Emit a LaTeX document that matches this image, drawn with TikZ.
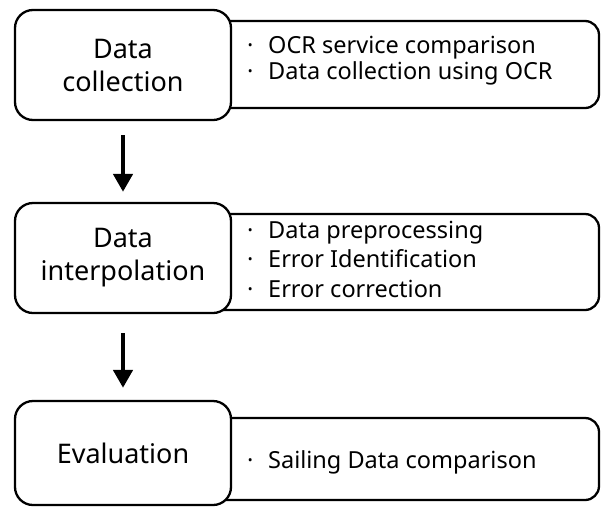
\documentclass[tikz,border=0pt]{standalone}
\usepackage{fontspec}
\setmainfont{Noto Sans}
\usetikzlibrary{arrows.meta}
\newcommand{\itm}{\makebox[26pt][l]{\hspace{5pt}·}}
\begin{document}
\begin{tikzpicture}[x=1pt,y=-1pt,
  lbox/.style={draw, line width=2.3pt, rounded corners=18pt, fill=white,
    minimum width=216pt, inner sep=0pt, align=center,
    font=\fontsize{27}{33}\selectfont},
  rbox/.style={draw, line width=2.3pt, rounded corners=14pt, fill=white,
    minimum width=399pt, inner sep=0pt},
  rtext/.style={anchor=west, align=left, inner sep=0pt},
  flow/.style={line width=4.6pt, -{Triangle[width=19pt,length=18pt]}}]
\useasboundingbox (0,0) rectangle (601,507);
% row 1
\node[rbox, minimum height=87pt] (r1) at (399.5,64.5) {};
\node[lbox, minimum height=110pt] (l1) at (123,65) {Data\\collection};
\node[rtext, font=\fontsize{23.5}{26}\selectfont] (t1) at (242,61)
  {\itm OCR service comparison\\ \itm Data collection using OCR};
% row 2
\node[rbox, minimum height=96pt] (r2) at (399.5,262) {};
\node[lbox, minimum height=110pt] (l2) at (123,258) {Data\\interpolation};
\node[rtext, font=\fontsize{23.5}{29.5}\selectfont] (t2) at (242,259)
  {\itm Data preprocessing\\ \itm Error Identification\\ \itm Error correction};
% row 3
\node[rbox, minimum height=82pt] (r3) at (399.5,459) {};
\node[lbox, minimum height=104pt] (l3) at (123,453) {Evaluation};
\node[rtext, font=\fontsize{23.5}{26}\selectfont] (t3) at (242,462)
  {\itm Sailing Data comparison};
% arrows
\draw[flow, shorten <=14pt, shorten >=10pt] (l1.south) -- (l2.north);
\draw[flow, shorten <=19pt, shorten >=12pt] (l2.south) -- (l3.north);
\end{tikzpicture}
\end{document}
